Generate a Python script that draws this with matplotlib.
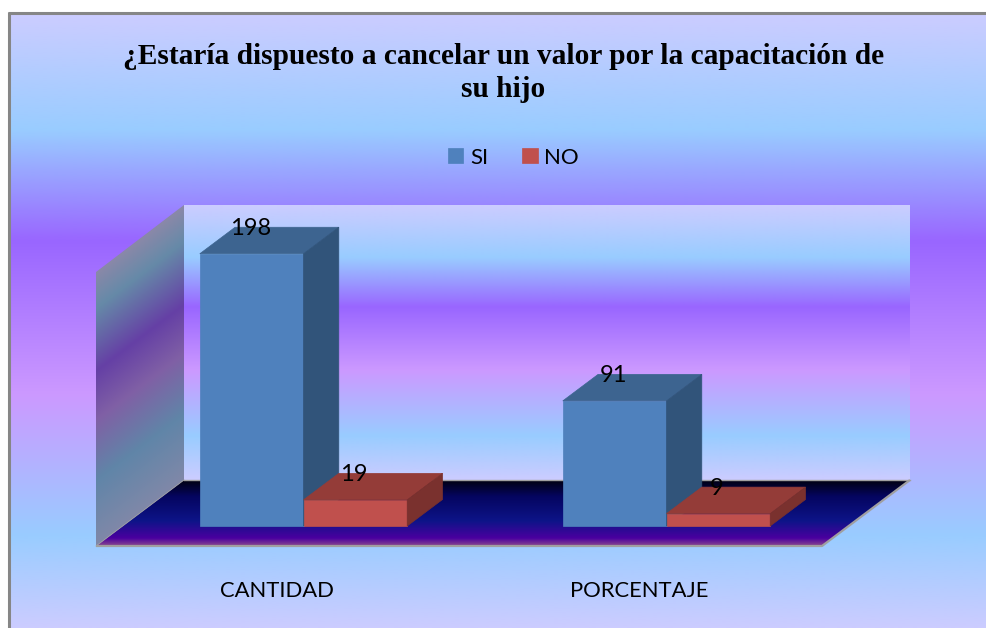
import matplotlib
matplotlib.use("Agg")
import matplotlib.pyplot as plt
import numpy as np
from matplotlib.colors import LinearSegmentedColormap
from matplotlib.patches import Polygon

categories = ["CANTIDAD", "PORCENTAJE"]
series_names = ["SI", "NO"]
si_values = [198, 91]
no_values = [19, 9]
title = "¿Estaría dispuesto a cancelar un valor por la capacitación de\nsu hijo"

W, H = 986, 628
fig = plt.figure(figsize=(W / 100, H / 100), dpi=100, facecolor="white")


def grad(stops):
    return LinearSegmentedColormap.from_list("g", stops, N=512)


bg_stops = [(0, "#CCCCFF"), (0.19, "#99CCFF"), (0.37, "#9966FF"), (0.62, "#CC99FF"), (0.85, "#99CCFF"), (1, "#CCCCFF")]
wall_stops = [(0, "#CCCCFF"), (0.19, "#99CCFF"), (0.37, "#9966FF"), (0.60, "#CC99FF"), (0.84, "#99CCFF"), (1, "#CCCCFF")]
floor_stops = [(0, "#000010"), (0.25, "#050560"), (0.62, "#0D1488"), (0.88, "#4A009F"), (1, "#8A4A90")]
side_stops = [(0, "#8A88A8"), (0.13, "#668AA8"), (0.36, "#6540A5"), (0.54, "#8060A5"), (0.76, "#6085A8"), (1, "#8088A8")]

# background layer in pixel coordinates
bg = fig.add_axes([0, 0, 1, 1], zorder=0)
bg.set_xlim(0, W)
bg.set_ylim(H, 0)
bg.axis("off")
ramp = np.linspace(0, 1, 512).reshape(-1, 1)
bg.imshow(ramp, cmap=grad(bg_stops), extent=(9, W, H, 13), aspect="auto", zorder=1, interpolation="bilinear")

im = bg.imshow(ramp, cmap=grad(wall_stops), extent=(184, 910, 480, 205), aspect="auto", zorder=2, interpolation="bilinear")

floor_pts = [(96, 546), (822, 546), (910, 480), (184, 480)]
im = bg.imshow(ramp, cmap=grad(floor_stops), extent=(96, 910, 546, 480), aspect="auto", zorder=3, interpolation="bilinear")
clip = Polygon(floor_pts, transform=bg.transData, fc="none", ec="none")
bg.add_patch(clip)
im.set_clip_path(clip)

# side wall with sheared gradient
xs, ys = np.meshgrid(np.linspace(96, 184, 120), np.linspace(205, 546, 500))
v = np.clip((ys + (xs - 96) * 0.75 - 272) / (546 - 272), 0, 1)
im = bg.imshow(v, cmap=grad(side_stops), extent=(96, 184, 546, 205), aspect="auto", zorder=3, interpolation="bilinear", origin="upper", vmin=0, vmax=1)
clip2 = Polygon([(96, 546), (96, 272), (184, 205), (184, 480)], transform=bg.transData, fc="none", ec="none")
bg.add_patch(clip2)
im.set_clip_path(clip2)
bg.set_xlim(0, W)
bg.set_ylim(H, 0)

edge = "#A09FA0"
bg.plot([96, 822, 910], [546, 546, 480], color=edge, lw=1.6, zorder=4, solid_capstyle="butt")
bg.plot([184, 910], [480, 480], color=edge, lw=1.0, zorder=4)
bg.plot([96, 184], [546, 480], color=edge, lw=0.6, zorder=4)
bg.plot([9, 9], [H, 12], color="#868686", lw=2.2, zorder=5, solid_capstyle="butt")
bg.plot([8, W], [13, 13], color="#868686", lw=2.2, zorder=5, solid_capstyle="butt")

# data layer: front plane of the 3D box
ax = fig.add_axes([95 / W, 1 - 546 / H, (822 - 96) / W, (546 - 271) / H], zorder=2)
ax.patch.set_alpha(0)
ax.set_xlim(-0.5, 1.5)
ax.set_ylim(0, 200)
for s in ax.spines.values():
    s.set_visible(False)
ax.set_yticks([])
x_pos = np.arange(len(categories))
ax.set_xticks(x_pos)
ax.set_xticklabels(categories, fontname="Lato", fontsize=15.8, color="black")
ax.tick_params(axis="x", length=0, pad=25)

px_x = 363.0
px_y = 275 / 200
width = 103.7 / px_x
lift_x, lift_y = 27 / px_x, 20 / px_y
dep_x, dep_y = 35.3 / px_x, 26.5 / px_y


def draw(series, shift, front, top, side, label):
    lefts = x_pos + shift
    bars = ax.bar(lefts + lift_x, series, width=width, bottom=lift_y, align="edge", color=front,
                  edgecolor=front, linewidth=0.5, label=label, zorder=3, clip_on=False)
    for l, val in zip(lefts, series):
        x0, x1 = l + lift_x, l + lift_x + width
        y0, y1 = lift_y, lift_y + val
        ax.add_patch(Polygon([(x0, y1), (x1, y1), (x1 + dep_x, y1 + dep_y), (x0 + dep_x, y1 + dep_y)],
                             fc=top, ec=top, lw=0.5, zorder=3, clip_on=False))
        ax.add_patch(Polygon([(x1, y0), (x1 + dep_x, y0 + dep_y), (x1 + dep_x, y1 + dep_y), (x1, y1)],
                             fc=side, ec=side, lw=0.5, zorder=3, clip_on=False))
    return bars


b1 = draw(si_values, -width, "#4F81BD", "#3D6490", "#31547A", series_names[0])
b2 = draw(no_values, 0, "#C0504D", "#943C38", "#7A312E", series_names[1])

for xs_, vals in [(x_pos - width, si_values), (x_pos, no_values)]:
    for xv, val in zip(xs_, vals):
        ax.annotate(str(val), (xv + lift_x + width / 2, lift_y + val), xytext=(-1, 25 * 0.72),
                    textcoords="offset points", ha="center", va="center", fontname="Lato",
                    fontsize=17, color="black", zorder=5, annotation_clip=False)

ax.legend(handles=[b1, b2], loc="center", bbox_to_anchor=(513.5 / W, 1 - 157.5 / H), bbox_transform=fig.transFigure,
          ncols=2, frameon=False, prop={"family": "Lato", "size": 16}, handlelength=0.68, handleheight=0.68,
          handletextpad=0.3, columnspacing=1.55, labelcolor="black")

fig.text(503.5 / W, 1 - 73 / H, title, ha="center", va="center", fontname="Liberation Serif", fontweight="bold",
         fontsize=21.2, color="black", linespacing=1.27, zorder=6)

fig.savefig("out.png", dpi=100)
